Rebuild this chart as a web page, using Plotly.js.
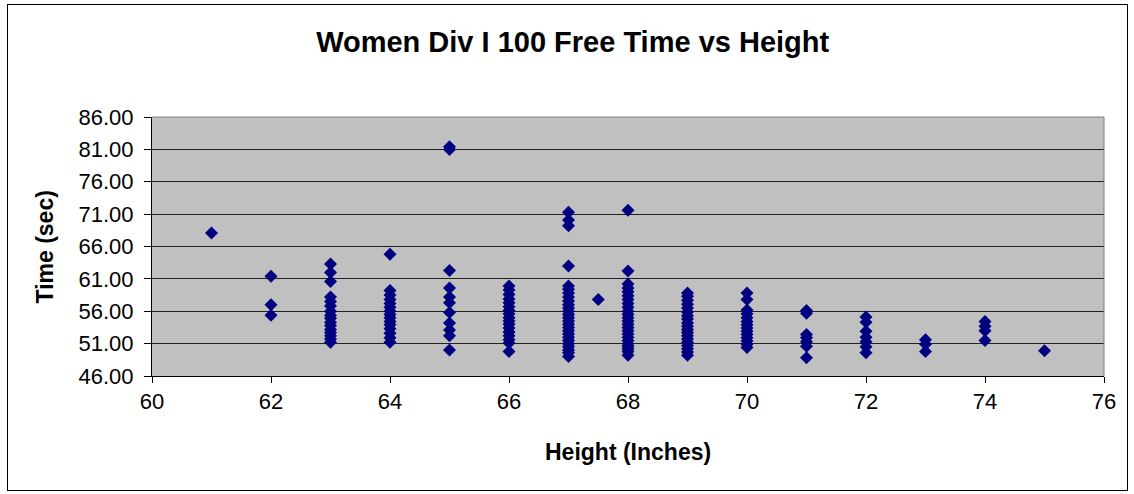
<!DOCTYPE html>
<html>
<head>
<meta charset="utf-8">
<script src="https://cdn.plot.ly/plotly-3.0.1.min.js"></script>
<style>
  html, body { margin: 0; padding: 0; background: #fff; }
  #wrap { position: relative; width: 1134px; height: 494px; }
  #chart { width: 1134px; height: 494px; }
  #frame { position: absolute; left: 7px; top: 4px; width: 1119px; height: 485px;
           border: 1px solid #000; pointer-events: none; }
</style>
</head>
<body>
<div id="wrap">
  <div id="chart"></div>
  <div id="frame"></div>
</div>
<script>
// 100 free times (sec) of Division I women, grouped by height (inches)
const h61 = [68.1];
const h62 = [61.4, 57.0, 55.4];
const h63 = [63.3, 62.0, 60.6, 58.2, 57.5, 56.8, 56.0, 55.4, 54.9, 54.3, 53.8, 53.2, 52.7, 52.2, 51.7, 51.2];
const h64 = [64.8, 59.2, 58.5, 57.8, 57.2, 56.6, 56.0, 55.5, 55.0, 54.4, 53.9, 53.3, 52.6, 51.9, 51.2];
const h65 = [81.0, 81.4, 62.3, 59.6, 58.2, 57.3, 55.8, 54.2, 53.1, 52.2, 50.0];
const h66 = [59.9, 59.3, 58.6, 57.9, 57.3, 56.7, 56.1, 55.6, 55.0, 54.5, 54.0, 53.4, 52.8, 52.2, 51.6, 51.1, 49.8];
const h67 = [71.3, 70.1, 69.2, 63.0, 59.9, 59.4, 58.8, 58.2, 57.6, 57.0, 56.5, 56.0, 55.5, 55.0, 54.5, 54.0,
             53.5, 53.0, 52.5, 52.0, 51.5, 51.0, 50.5, 50.0, 49.6, 49.0];
const h67_5 = [57.8];
const h68 = [71.6, 62.2, 60.2, 59.6, 59.0, 58.4, 57.8, 57.2, 56.6, 56.0, 55.5, 55.0, 54.5, 54.0, 53.5, 53.0,
             52.5, 52.0, 51.5, 51.0, 50.6, 50.2, 49.8, 49.2];
const h69 = [58.8, 58.3, 57.7, 57.1, 56.5, 55.9, 55.3, 54.8, 54.2, 53.7, 53.2, 52.7, 52.2, 51.7, 51.2, 50.7,
             50.2, 49.7, 49.2];
const h70 = [58.8, 57.8, 56.2, 55.6, 55.0, 54.4, 53.9, 53.4, 52.9, 52.4, 51.9, 51.4, 50.9, 50.4];
const h71 = [56.1, 55.7, 52.4, 51.9, 51.3, 50.6, 48.8];
const h72 = [55.1, 54.3, 52.9, 52.0, 51.3, 50.5, 49.6];
const h73 = [51.6, 50.9, 49.8];
const h74 = [54.4, 53.7, 53.0, 51.5];
const h75 = [49.9];

const heights = [61, 62, 63, 64, 65, 66, 67, 67.5, 68, 69, 70, 71, 72, 73, 74, 75];
const timesByHeight = [h61, h62, h63, h64, h65, h66, h67, h67_5, h68, h69, h70, h71, h72, h73, h74, h75];

const yTicks = [46, 51, 56, 61, 66, 71, 76, 81, 86];
const xTicks = [60, 62, 64, 66, 68, 70, 72, 74, 76];

// flatten into x/y pairs for a single scatter trace
const xs = [], ys = [];
heights.forEach((h, i) => {
  timesByHeight[i].forEach(t => { xs.push(h); ys.push(t); });
});

const FONT = 'Liberation Sans, Arial, sans-serif';

const trace = {
  type: 'scatter',
  mode: 'markers',
  x: xs,
  y: ys,
  marker: { symbol: 'diamond', size: 10, color: '#000080', line: { width: 0 } },
  hoverinfo: 'x+y'
};

const layout = {
  width: 1134,
  height: 494,
  margin: { l: 152, r: 30, t: 117, b: 118 },
  paper_bgcolor: '#ffffff',
  plot_bgcolor: '#c0c0c0',
  showlegend: false,
  font: { family: FONT, color: '#000' },
  title: {
    text: 'Women Div I 100 Free Time vs Height',
    font: { family: FONT, size: 29, color: '#000', weight: 'bold' },
    xref: 'container', x: 0.505, xanchor: 'center',
    yref: 'container', y: 0.915, yanchor: 'middle'
  },
  xaxis: {
    range: [60, 76],
    tickvals: xTicks,
    ticktext: xTicks.map(String),
    showgrid: false,
    zeroline: false,
    showline: true,
    linecolor: '#000',
    linewidth: 1,
    ticks: 'outside',
    ticklen: 6,
    tickcolor: '#000',
    tickfont: { family: FONT, size: 22, color: '#000' },
    fixedrange: true
  },
  yaxis: {
    range: [46, 86],
    tickvals: yTicks,
    ticktext: yTicks.map(v => v.toFixed(2)),
    showgrid: true,
    gridcolor: '#222',
    gridwidth: 1,
    zeroline: false,
    showline: true,
    linecolor: '#000',
    linewidth: 1,
    ticks: 'outside',
    ticklen: 7,
    tickcolor: '#000',
    ticklabelstandoff: 6,
    tickfont: { family: FONT, size: 22, color: '#000' },
    fixedrange: true
  },
  shapes: [
    // plot area outline (top and right edges)
    { type: 'line', xref: 'paper', yref: 'paper', x0: 0, x1: 1, y0: 1, y1: 1,
      line: { color: '#808080', width: 1 } },
    { type: 'line', xref: 'paper', yref: 'paper', x0: 1, x1: 1, y0: 0, y1: 1,
      line: { color: '#808080', width: 1 } }
  ],
  annotations: [
    { text: 'Height (Inches)', xref: 'paper', yref: 'paper', x: 0.5, y: -0.293,
      xanchor: 'center', yanchor: 'middle', showarrow: false,
      font: { family: FONT, size: 23, color: '#000', weight: 'bold' } },
    { text: 'Time (sec)', xref: 'paper', yref: 'paper', x: -0.1124, y: 0.5,
      xanchor: 'center', yanchor: 'middle', showarrow: false, textangle: -90,
      font: { family: FONT, size: 23, color: '#000', weight: 'bold' } }
  ]
};

Plotly.newPlot('chart', [trace], layout, { displayModeBar: false, staticPlot: true });
</script>
</body>
</html>
